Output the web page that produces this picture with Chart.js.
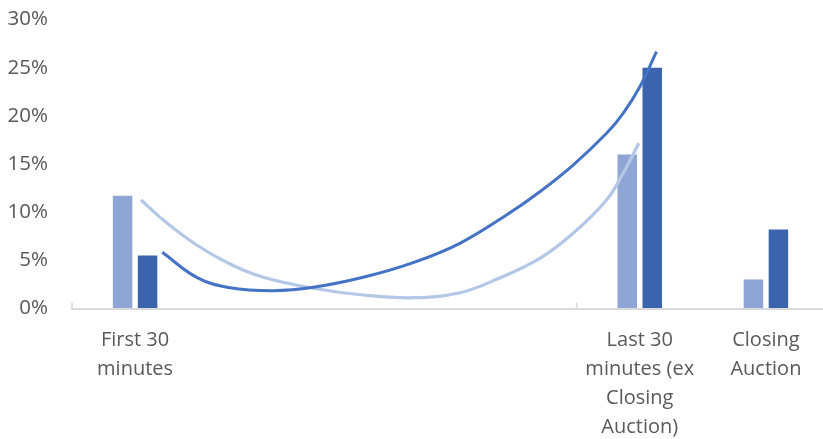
<!DOCTYPE html>
<html>
<head>
<meta charset="utf-8">
<script src="https://cdn.jsdelivr.net/npm/chart.js@4"></script>
<style>
html,body{margin:0;padding:0;background:#fff;overflow:hidden}
#wrap{width:840px;height:439px}
</style>
</head>
<body>
<div id="wrap"><canvas id="c" width="840" height="439"></canvas></div>
<script>
// categories (middle buckets have no label)
const labels=[["First 30","minutes"],"","","",["Last 30","minutes (ex","Closing","Auction)"],["Closing","Auction"]];
const lightVals=[11.7,null,null,null,16.0,3.0];
const darkVals=[5.5,null,null,null,25.0,8.2];

// trendline samples, x in category units (0..6)
const darkTrendX=[0.716,0.988,1.252,1.595,1.912,2.308,2.704,3.074,3.444,3.708,3.972,4.237,4.368,4.501,4.633];
const darkTrendY=[5.84,3.24,2.16,1.85,2.2,3.24,4.76,6.77,9.71,12.13,14.9,18.19,20.27,23.03,26.67];
const lightTrendX=[0.547,0.723,0.988,1.252,1.516,1.912,2.308,2.704,3.074,3.365,3.708,3.972,4.237,4.368,4.492];
const lightTrendY=[11.27,9.19,6.59,4.62,3.24,2.1,1.4,1.12,1.64,3.03,5.21,7.81,11.27,14.04,17.15];

const yTicks=[0,5,10,15,20,25,30];

const FONT="'Open Sans', sans-serif";
const GREY="#595959";

// small tick marks every 4 categories, pointing up from the axis line
const axisTicks={id:"axisTicks",afterDatasetsDraw(ch){
  const s=ch.scales.x2,ctx=ch.ctx,b=ch.chartArea.bottom;
  ctx.save();ctx.strokeStyle="#d9d9d9";ctx.lineWidth=1.5;
  [0,4].forEach(u=>{const x=s.getPixelForValue(u);ctx.beginPath();ctx.moveTo(x,b-6);ctx.lineTo(x,b);ctx.stroke()});
  ctx.restore();
}};

new Chart(document.getElementById("c"),{
  data:{labels,datasets:[
    {type:"line",data:darkTrendX.map((x,i)=>({x,y:darkTrendY[i]})),xAxisID:"x2",borderColor:"#4472c4",borderWidth:3,pointRadius:0,tension:0.4,order:0},
    {type:"line",data:lightTrendX.map((x,i)=>({x,y:lightTrendY[i]})),xAxisID:"x2",borderColor:"#b4c7e7",borderWidth:3.2,pointRadius:0,tension:0.4,order:1},
    {type:"bar",data:lightVals,backgroundColor:"#8fa5d6",categoryPercentage:0.792,barPercentage:0.78,order:2},
    {type:"bar",data:darkVals,backgroundColor:"#3c64ac",categoryPercentage:0.792,barPercentage:0.78,order:3}
  ]},
  options:{
    responsive:false,animation:false,
    layout:{padding:{top:19.6,right:11,left:0,bottom:0}},
    plugins:{legend:{display:false},tooltip:{enabled:false}},
    scales:{
      x:{type:"category",offset:true,
        grid:{display:false,drawTicks:false},
        border:{display:true,color:"#d9d9d9",width:2},
        ticks:{color:GREY,font:{family:FONT,size:20,lineHeight:1.46},padding:17,autoSkip:false,maxRotation:0},
        afterFit(s){s.height=130.5}},
      x2:{type:"linear",display:false,min:0,max:6},
      y:{min:0,max:30,
        grid:{display:true,drawOnChartArea:false,drawTicks:true,tickLength:24,color:"rgba(0,0,0,0)"},border:{display:false},
        afterBuildTicks(s){s.ticks=yTicks.map(v=>({value:v}))},
        ticks:{color:GREY,font:{family:FONT,size:20.5},padding:0,callback:v=>v+"%"},
        afterFit(s){s.width=72}}
    }
  },
  plugins:[axisTicks]
});
</script>
</body>
</html>
